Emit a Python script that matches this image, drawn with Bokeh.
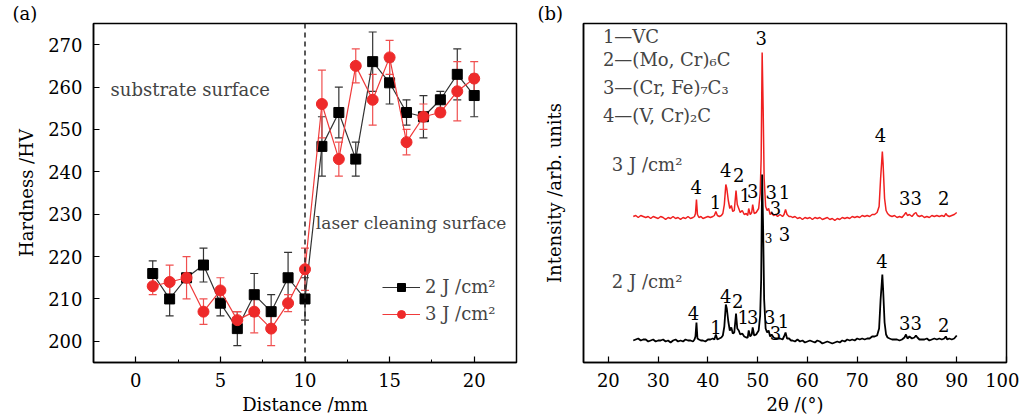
from bokeh.plotting import figure
from bokeh.models import (ColumnDataSource, Whisker, TeeHead, Span, Legend, LegendItem,
                          Label, FixedTicker, Range1d)
from bokeh.layouts import row
from bokeh.embed import file_html
from bokeh.resources import INLINE
from bokeh.core.properties import value

FONT = "DejaVu Serif"
FS = "18px"

# ---------------- (a) hardness data ----------------
distance_mm = [1, 2, 3, 4, 5, 6, 7, 8, 9, 10, 11, 12, 13, 14, 15, 16, 17, 18, 19, 20]
hv_2J = [216, 210, 215, 218, 209, 203, 211, 207, 215, 210, 246, 254, 243, 266, 261, 254, 253, 257, 263, 258]
err_2J = [3, 4, 1, 4, 3, 4, 5, 4, 6, 5, 7, 6, 4, 7, 5, 3, 5, 2, 6, 5]
hv_3J = [213, 214, 215, 207, 212, 205, 207, 203, 209, 217, 256, 243, 265, 257, 267, 247, 253, 254, 259, 262]
err_3J = [2, 4, 5, 3, 3, 2, 5, 4, 2, 5, 8, 4, 4, 6, 4, 3, 3, 1, 7, 4]
series_labels = ["2 J /cm²", "3 J /cm²"]

# ---------------- (b) XRD data ----------------
two_theta = [
    25.0, 25.5, 26.0, 26.5, 27.0, 27.5, 28.0, 28.5, 29.0, 29.5,
    30.0, 30.5, 31.0, 31.5, 32.0, 32.5, 33.0, 33.5, 34.0, 34.5,
    35.0, 35.5, 36.0, 36.5, 37.0, 37.3, 37.5, 37.7, 37.9, 38.2,
    38.6, 39.0, 39.5, 40.0, 40.5, 41.0, 41.3, 41.6, 41.9, 42.3,
    42.7, 43.0, 43.3, 43.6, 43.8, 44.1, 44.4, 44.7, 45.0, 45.3,
    45.65, 45.9, 46.2, 46.5, 46.9, 47.3, 47.7, 48.0, 48.2, 48.5,
    48.8, 49.0, 49.3, 49.7, 50.2, 50.5, 50.7, 50.9, 51.1, 51.3,
    51.6, 51.9, 52.2, 52.5, 52.8, 53.2, 53.6, 54.0, 54.5, 55.0,
    55.3, 55.6, 55.9, 56.3, 56.7, 57.0, 57.5, 58.0, 58.5, 59.0,
    59.5, 60.0, 60.5, 61.0, 61.5, 62.0, 62.5, 63.0, 63.5, 64.0,
    64.5, 65.0, 65.5, 66.0, 66.5, 67.0, 67.5, 68.0, 68.5, 69.0,
    69.5, 70.0, 70.5, 71.0, 71.5, 72.0, 72.5, 73.0, 73.5, 74.0,
    74.4, 74.7, 74.9, 75.05, 75.2, 75.5, 75.8, 76.1, 76.5, 77.0,
    77.5, 78.0, 78.5, 79.0, 79.5, 79.8, 80.1, 80.5, 81.0, 81.5,
    81.8, 82.1, 82.5, 83.0, 83.5, 84.0, 84.5, 85.0, 85.5, 86.0,
    86.5, 87.0, 87.5, 87.8, 88.1, 88.5, 89.0, 89.5, 90.0,
]
int_3J = [
    2, 3, 1, 3, 2, 1, 2, 0, 2, 1,
    0, 2, 1, -1, 1, 0, 2, 0, 1, -1,
    1, 0, 2, 0, 1, 2, 5, 19, 4, 1,
    2, 0, 1, 2, 1, 2, 3, 7, 3, 2,
    3, 5, 14, 34, 30, 18, 10, 13, 7, 8,
    28, 14, 10, 6, 8, 4, 5, 3, 10, 4,
    6, 14, 5, 6, 10, 25, 60, 166, 110, 40,
    12, 8, 10, 4, 6, 3, 4, 2, 4, 2,
    4, 9, 4, 2, 2, 1, 2, 0, 1, -1,
    1, 0, 1, -1, 1, 0, 1, -1, 0, 1,
    -1, 0, -2, 0, -1, 1, 0, 1, 0, 2,
    1, 2, 1, 3, 2, 3, 2, 4, 4, 6,
    12, 40, 55, 67, 55, 20, 8, 5, 3, 2,
    3, 1, 2, 1, 4, 6, 3, 4, 2, 5,
    6, 3, 2, 3, 1, 2, 1, 3, 2, 3,
    2, 3, 2, 5, 3, 2, 3, 4, 6,
]
int_2J = [
    1, 2, 3, 1, 2, 2, 0, 1, 2, 0,
    1, 1, 2, 0, 1, -1, 1, 2, 0, 1,
    0, 2, 1, 1, 0, 2, 5, 19, 3, 2,
    1, 1, 0, 2, 2, 3, 2, 7, 2, 3,
    4, 6, 15, 37, 33, 20, 11, 14, 8, 9,
    28, 13, 11, 7, 8, 5, 4, 4, 11, 5,
    7, 14, 6, 7, 11, 26, 62, 167, 112, 42,
    13, 9, 11, 5, 7, 4, 3, 3, 3, 2,
    5, 9, 3, 3, 1, 1, 0, 2, 0, 1,
    -1, 0, 1, 0, -1, 1, 0, -2, -1, 0,
    -1, -2, -1, 0, -1, 1, 0, 2, 1, 2,
    1, 3, 2, 3, 2, 3, 3, 5, 5, 6,
    13, 42, 56, 67, 53, 19, 7, 4, 3, 2,
    2, 2, 1, 2, 4, 7, 3, 5, 3, 4,
    6, 4, 2, 2, 2, 3, 1, 2, 3, 2,
    3, 2, 3, 5, 2, 3, 2, 3, 6,
]
phase_legend = ["1—VC", "2—(Mo, Cr)₆C", "3—(Cr, Fe)₇C₃", "4—(V, Cr)₂C"]

# peak markers (text, 2theta of label, label height)
peaks_3J_text = ["3", "4", "1", "4", "2", "1", "3", "3", "1", "3", "4", "33", "2", "3"]
peaks_3J_x = [50.7, 37.66, 41.5, 43.6, 46.2, 47.5, 49.0, 52.7, 55.4, 53.6, 74.7, 80.7, 87.4, 55.4]
peaks_3J_y = [324.3, 175.3, 161, 192.7, 187.7, 167.7, 171.7, 171, 170.3, 155, 227.7, 164.3, 164.3, 128.3]
peaks_2J_text = ["4", "1", "4", "2", "1", "3", "3", "1", "3", "4", "33", "2"]
peaks_2J_x = [37.1, 41.6, 43.6, 46.0, 47.1, 49.0, 52.4, 55.2, 53.6, 75.0, 80.7, 87.4]
peaks_2J_y = [50, 36, 66.7, 61.7, 46, 46, 46, 42, 30, 101.7, 39.3, 37.7]

OFFSET_3J = 144
OFFSET_2J = 21

RED = "#ee2a2a"
RED_LIGHT = "#f05050"
DARK = "#222222"


def style_axes(p):
    p.grid.visible = False
    p.outline_line_color = "black"
    p.outline_line_width = 1.5
    p.outline_line_alpha = 1
    for ax in (p.xaxis[0], p.yaxis[0]):
        ax.axis_line_width = 1.5
        ax.axis_line_color = "black"
        ax.major_tick_in = 6
        ax.major_tick_out = 0
        ax.minor_tick_in = 3
        ax.minor_tick_out = 0
        ax.major_tick_line_width = 1.2
        ax.major_label_text_font = FONT
        ax.major_label_text_font_size = FS
        ax.major_label_text_color = "black"
        ax.axis_label_text_font = FONT
        ax.axis_label_text_font_size = FS
        ax.axis_label_text_font_style = "normal"
        ax.axis_label_text_color = "black"


def panel_title(p, text, offset):
    p.title.text = text
    p.title.align = "left"
    p.title.offset = offset
    p.title.standoff = 0
    p.title.text_font = FONT
    p.title.text_font_size = FS
    p.title.text_font_style = "normal"
    p.title.text_color = "black"


# ================= panel (a) =================
pa = figure(frame_width=423, frame_height=339, x_range=Range1d(-2.5, 22.5),
            y_range=Range1d(195, 275), output_backend="svg", toolbar_location=None,
            min_border_left=93, min_border_right=4, min_border_top=22, min_border_bottom=58)
style_axes(pa)
panel_title(pa, "(a)", -81)
pa.xaxis.ticker = FixedTicker(ticks=[0, 5, 10, 15, 20], minor_ticks=[-2.5, 2.5, 7.5, 12.5, 17.5, 22.5])
pa.yaxis.ticker = FixedTicker(ticks=[200, 210, 220, 230, 240, 250, 260, 270], minor_ticks=[])
pa.xaxis.axis_label = "Distance /mm"
pa.yaxis.axis_label = "Hardness /HV"
pa.xaxis.major_label_standoff = 10
pa.xaxis.axis_label_standoff = 4
pa.yaxis.major_label_standoff = 11
pa.yaxis.axis_label_standoff = 8

pa.add_layout(Span(location=10, dimension="height", line_color=DARK, line_width=1.5, line_dash="5 4"))

src2 = ColumnDataSource(dict(x=distance_mm, y=hv_2J,
                             lo=[v - e for v, e in zip(hv_2J, err_2J)],
                             hi=[v + e for v, e in zip(hv_2J, err_2J)]))
src3 = ColumnDataSource(dict(x=distance_mm, y=hv_3J,
                             lo=[v - e for v, e in zip(hv_3J, err_3J)],
                             hi=[v + e for v, e in zip(hv_3J, err_3J)]))

w2 = Whisker(base="x", upper="hi", lower="lo", source=src2, line_color="#333333", line_width=1.2,
             upper_head=TeeHead(size=8, line_color="#333333", line_width=1.2),
             lower_head=TeeHead(size=8, line_color="#333333", line_width=1.2))
w3 = Whisker(base="x", upper="hi", lower="lo", source=src3, line_color=RED_LIGHT, line_width=1.2,
             upper_head=TeeHead(size=8, line_color=RED_LIGHT, line_width=1.2),
             lower_head=TeeHead(size=8, line_color=RED_LIGHT, line_width=1.2))
pa.add_layout(w2)
pa.add_layout(w3)

l2 = pa.line("x", "y", source=src2, line_color="#333333", line_width=1.2)
m2 = pa.scatter("x", "y", source=src2, marker="square", size=10, fill_color="black", line_color="black")
l3 = pa.line("x", "y", source=src3, line_color="#f03a3a", line_width=1.2)
m3 = pa.scatter("x", "y", source=src3, marker="circle", size=11, fill_color=RED, line_color=RED)

leg = Legend(items=[LegendItem(label=series_labels[0], renderers=[l2, m2]),
                    LegendItem(label=series_labels[1], renderers=[l3, m3])],
             location=(289, 38), glyph_width=38, glyph_height=20, label_height=20,
             spacing=6, padding=0, margin=0, label_standoff=5,
             label_text_font=FONT, label_text_font_size=FS,
             border_line_alpha=0, background_fill_alpha=0)
pa.add_layout(leg)

pa.add_layout(Label(x=-1.49, y=259.4, text="substrate surface", text_font=FONT,
                    text_font_size=FS, text_baseline="middle", text_align="left"))
pa.add_layout(Label(x=10.64, y=227.9, text="laser cleaning surface", text_font=FONT,
                    text_font_size="17px", text_baseline="middle", text_align="left"))

# ================= panel (b) =================
pb = figure(frame_width=423, frame_height=339, x_range=Range1d(15, 100),
            y_range=Range1d(0, 339), output_backend="svg", toolbar_location=None,
            min_border_left=63, min_border_right=13, min_border_top=22, min_border_bottom=58)
style_axes(pb)
panel_title(pb, "(b)", -46)
pb.xaxis.ticker = FixedTicker(ticks=[20, 30, 40, 50, 60, 70, 80, 90, 100], minor_ticks=[])
pb.yaxis.ticker = FixedTicker(ticks=[], minor_ticks=[])
pb.xaxis.axis_label = "2θ /(°)"
pb.yaxis.axis_label = "Intensity /arb. units"
pb.xaxis.major_label_standoff = 10
pb.xaxis.axis_label_standoff = 4
pb.yaxis.axis_label_standoff = 19

pb.line(two_theta, [v + OFFSET_3J for v in int_3J], line_color="#f02020", line_width=1.5)
pb.line(two_theta, [v + OFFSET_2J for v in int_2J], line_color="black", line_width=1.8)

pb.text(x=peaks_3J_x, y=peaks_3J_y, text=peaks_3J_text, text_font=value(FONT),
        text_font_size=FS, text_align="center", text_baseline="middle", text_color="black")
pb.text(x=[52.2], y=[124.3], text=["3"], text_font=value(FONT),
        text_font_size="12px", text_align="center", text_baseline="middle", text_color="black")
pb.text(x=peaks_2J_x, y=peaks_2J_y, text=peaks_2J_text, text_font=value(FONT),
        text_font_size=FS, text_align="center", text_baseline="middle", text_color="black")

for i, t in enumerate(phase_legend):
    pb.add_layout(Label(x=18.9, y=[326, 303.5, 275, 247][i], text=t, text_font=FONT,
                        text_font_size=FS, text_baseline="middle", text_align="left"))
pb.add_layout(Label(x=20.7, y=197.7, text="3 J /cm²", text_font=FONT, text_font_size=FS,
                    text_baseline="middle", text_align="left"))
pb.add_layout(Label(x=20.7, y=81, text="2 J /cm²", text_font=FONT, text_font_size=FS,
                    text_baseline="middle", text_align="left"))

layout = row(pa, pb)
open("out.html", "w").write(file_html(layout, INLINE))
